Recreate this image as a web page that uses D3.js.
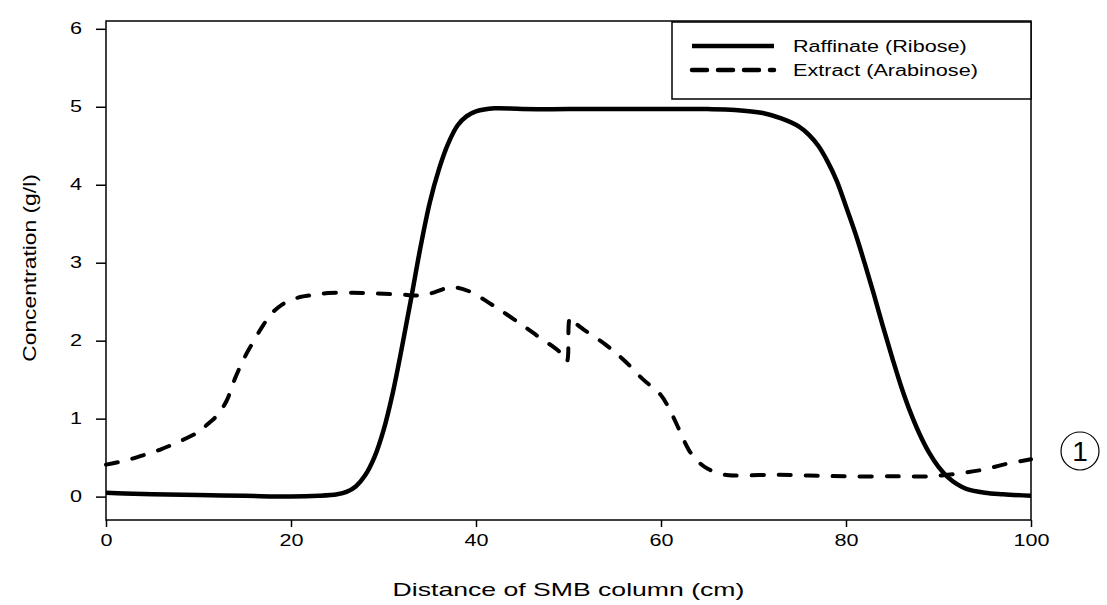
<!DOCTYPE html>
<html>
<head>
<meta charset="utf-8">
<script src="https://cdn.jsdelivr.net/npm/d3@7"></script>
<style>
body { margin: 0; background: #fff; }
text { font-family: Arial, "Liberation Sans", sans-serif; fill: #000; }
</style>
</head>
<body>
<div id="chart"></div>
<script>
(function(){

// data
var seriesNames = ['Raffinate (Ribose)', 'Extract (Arabinose)'];

var raffinateX = [0, 2, 5, 10, 15, 20, 23, 25, 26, 27, 28, 29, 30, 31, 32, 33, 34, 35, 36, 37, 38, 39, 40, 42, 45,
                  50, 55, 60, 65, 68, 71, 73, 75, 76, 77, 78, 79, 80, 81, 82, 83, 84, 85, 86, 87, 88, 89, 90, 91, 92, 93, 95, 97, 100];
var raffinateC = [0.05, 0.04, 0.03, 0.02, 0.01, 0.0, 0.01, 0.03, 0.06, 0.13, 0.27, 0.5, 0.85, 1.33, 1.92, 2.55, 3.2, 3.77, 4.2, 4.53, 4.76, 4.88, 4.94, 4.98, 4.97,
                  4.97, 4.97, 4.97, 4.97, 4.96, 4.92, 4.85, 4.74, 4.64, 4.5, 4.3, 4.05, 3.72, 3.38, 3.0, 2.6, 2.18, 1.78, 1.4, 1.07, 0.79, 0.56, 0.38, 0.25, 0.16, 0.1, 0.05, 0.03, 0.01];

var extractX = [0, 2, 4, 6, 8, 10, 11, 12, 13, 14, 15, 16, 17, 18, 19, 20, 21, 22, 24, 28, 32, 34, 35.5, 37, 38, 39.5, 42, 45, 47, 49, 49.8,
                50.2, 51, 54, 56, 58, 60, 61, 62, 63, 64, 65, 66.5, 68, 72, 76, 80, 85, 89, 91, 93, 95, 97, 100];
var extractC = [0.41, 0.46, 0.53, 0.61, 0.71, 0.83, 0.93, 1.04, 1.22, 1.53, 1.79, 2.0, 2.2, 2.36, 2.46, 2.52, 2.56, 2.58, 2.61, 2.61, 2.59, 2.58, 2.62, 2.68, 2.68, 2.62, 2.44, 2.2, 2.03, 1.86, 1.73,
                2.3, 2.2, 1.95, 1.75, 1.51, 1.3, 1.1, 0.85, 0.6, 0.45, 0.36, 0.29, 0.27, 0.28, 0.27, 0.26, 0.26, 0.26, 0.28, 0.31, 0.35, 0.41, 0.48];

var xTicks = [0, 20, 40, 60, 80, 100];
var yTicks = [0, 1, 2, 3, 4, 5, 6];

var width = 1107, height = 605;
var margin = {left: 106, right: 76, top: 21, bottom: 85};
var plotW = width - margin.left - margin.right;
var plotH = height - margin.top - margin.bottom;

// the scanned figure is stretched sideways; mimic with textLength
function stretch(sel, k) {
	sel.each(function() {
		var w = this.getComputedTextLength();
		d3.select(this).attr('textLength', w * k).attr('lengthAdjust', 'spacingAndGlyphs');
	});
}

var svg = d3.select('#chart').append('svg')
	.attr('width', width)
	.attr('height', height);

var g = svg.append('g')
	.attr('transform', 'translate(' + margin.left + ',' + margin.top + ')');

var x = d3.scaleLinear().domain([0, 100]).range([0, plotW]);
var y = d3.scaleLinear().domain([-0.3, 6.1]).range([plotH, 0]);

// frame
g.append('rect')
	.attr('width', plotW)
	.attr('height', plotH)
	.attr('fill', 'none')
	.attr('stroke', '#000')
	.attr('stroke-width', 1.5);

var xAxis = g.append('g')
	.attr('transform', 'translate(0,' + plotH + ')')
	.call(d3.axisBottom(x).tickValues(xTicks).tickSize(7).tickPadding(8).tickFormat(d3.format('d')));

var yAxis = g.append('g')
	.call(d3.axisLeft(y).tickValues(yTicks).tickSize(10).tickPadding(14).tickFormat(d3.format('d')));

[xAxis, yAxis].forEach(function(ax) {
	ax.select('.domain').remove();
	ax.selectAll('line').attr('stroke', '#000').attr('stroke-width', 1.5);
	ax.selectAll('text').attr('font-size', 16).attr('font-family', 'Arial, "Liberation Sans", sans-serif');
	stretch(ax.selectAll('text'), 1.35);
});

// curves
var line = d3.line()
	.x(function(d) { return x(d[0]); })
	.y(function(d) { return y(d[1]); })
	.curve(d3.curveCatmullRom.alpha(0.5));

var raffinate = raffinateX.map(function(v, i) { return [v, raffinateC[i]]; });
var extract = extractX.map(function(v, i) { return [v, extractC[i]]; });

g.append('path')
	.datum(extract)
	.attr('d', line)
	.attr('fill', 'none')
	.attr('stroke', '#000')
	.attr('stroke-width', 4)
	.attr('stroke-linecap', 'round')
	.attr('stroke-dasharray', '12,15');

g.append('path')
	.datum(raffinate)
	.attr('d', line)
	.attr('fill', 'none')
	.attr('stroke', '#000')
	.attr('stroke-width', 4.5)
	.attr('stroke-linejoin', 'round');

// legend
var lg = svg.append('g').attr('transform', 'translate(672,22)');
lg.append('rect')
	.attr('width', 359)
	.attr('height', 77)
	.attr('fill', '#fff')
	.attr('stroke', '#000')
	.attr('stroke-width', 1.5);

var dashes = [null, '15,11'];
seriesNames.forEach(function(name, i) {
	var yy = 24 + i * 24;
	lg.append('line')
		.attr('x1', 20).attr('x2', 102)
		.attr('y1', yy).attr('y2', yy)
		.attr('stroke', '#000')
		.attr('stroke-width', 4.5)
		.attr('stroke-linecap', i ? 'round' : 'butt')
		.attr('stroke-dasharray', dashes[i]);
	var t = lg.append('text')
		.attr('x', 121)
		.attr('y', yy + 6)
		.attr('font-size', 16)
		.text(name);
	stretch(t, 1.35);
});

// axis titles
var xt = svg.append('text')
	.attr('x', margin.left + plotW / 2)
	.attr('y', 596)
	.attr('text-anchor', 'middle')
	.attr('font-size', 19)
	.text('Distance of SMB column (cm)');
stretch(xt, 1.4);

var yt = svg.append('text')
	.attr('transform', 'translate(36,268) rotate(-90)')
	.attr('text-anchor', 'middle')
	.attr('font-size', 19)
	.text('Concentration (g/l)');
stretch(yt, 1.2);

// panel marker: circled "1"
var mark = svg.append('g').attr('transform', 'translate(1080,451)');
mark.append('circle')
	.attr('r', 19)
	.attr('fill', 'none')
	.attr('stroke', '#000')
	.attr('stroke-width', 1.2);
mark.append('text')
	.attr('y', 10)
	.attr('text-anchor', 'middle')
	.attr('font-size', 28)
	.attr('font-family', '"Liberation Serif", "DejaVu Serif", serif')
	.text('1');

})();
</script>
</body>
</html>
